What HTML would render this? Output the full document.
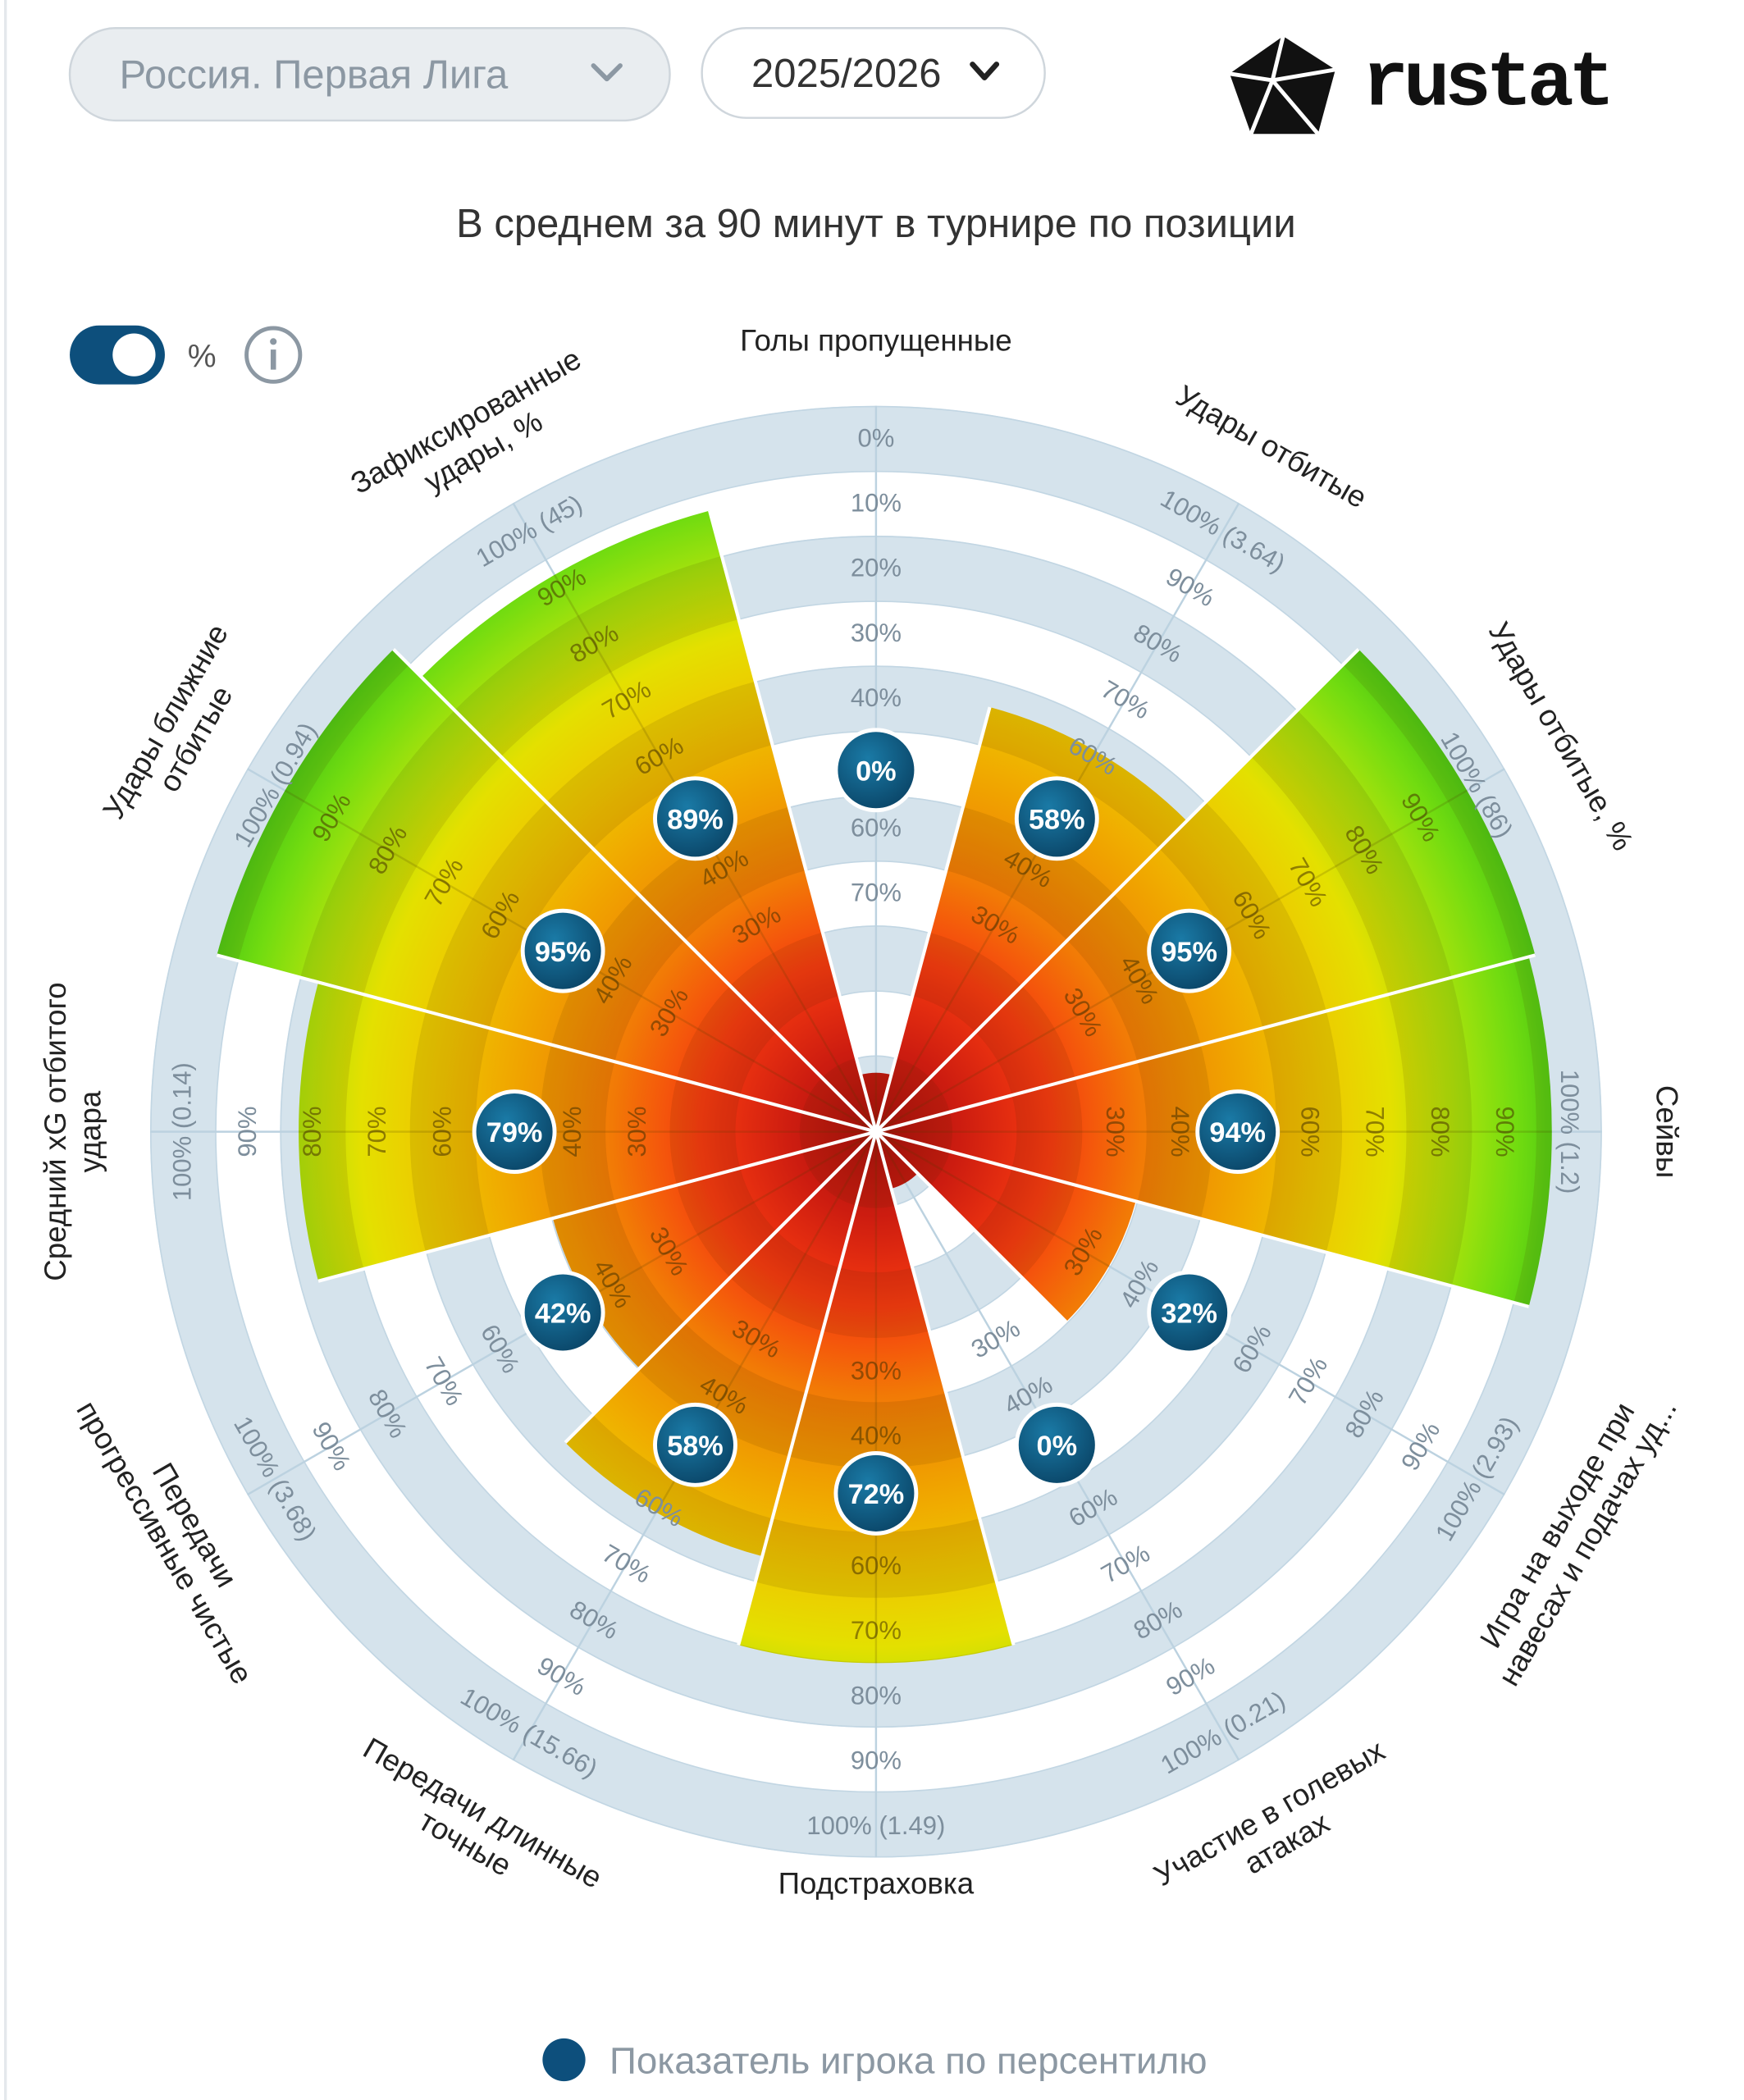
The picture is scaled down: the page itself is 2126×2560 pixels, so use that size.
<!DOCTYPE html>
<html><head><meta charset="utf-8"><style>
html,body{margin:0;padding:0;background:#fff;}
svg{display:block;}
text{font-family:"Liberation Sans","DejaVu Sans",sans-serif;}
</style></head><body>
<svg id="s" width="2126" height="2560" viewBox="0 0 1302 1568" xmlns="http://www.w3.org/2000/svg">
<defs>
<radialGradient id="g" cx="654" cy="845" r="520" gradientUnits="userSpaceOnUse">
<stop offset="0" stop-color="#a8100c"/>
<stop offset="0.12" stop-color="#cc1c10"/>
<stop offset="0.25" stop-color="#f63a10"/>
<stop offset="0.38" stop-color="#f27a06"/>
<stop offset="0.52" stop-color="#f0a400"/>
<stop offset="0.64" stop-color="#eec800"/>
<stop offset="0.74" stop-color="#e4e000"/>
<stop offset="0.84" stop-color="#a8e20c"/>
<stop offset="0.92" stop-color="#72dc10"/>
<stop offset="1" stop-color="#44c414"/>
</radialGradient>
<radialGradient id="mk" cx="0.4" cy="0.35" r="0.7">
<stop offset="0" stop-color="#1a7aa6"/>
<stop offset="1" stop-color="#0a4466"/>
</radialGradient>
</defs>
<rect x="0" y="0" width="1302" height="1568" fill="#fff"/>
<rect x="3" y="0" width="2" height="1568" fill="#e4e8ec"/>
<!-- header -->
<rect x="52" y="21" width="448" height="69" rx="34" fill="#e9edf0" stroke="#cfd6dc" stroke-width="1.5"/>
<text x="89" y="66" font-size="30" fill="#8c98a3">Россия. Первая Лига</text>
<path d="M443 49 L453 59 L463 49" fill="none" stroke="#8c98a3" stroke-width="3.5" stroke-linecap="round" stroke-linejoin="round"/>
<rect x="524" y="21" width="256" height="67" rx="33" fill="#fff" stroke="#cfd6dc" stroke-width="1.5"/>
<text x="561" y="65" font-size="30" fill="#333">2025/2026</text>
<path d="M726 48 L735 58 L744 48" fill="none" stroke="#222" stroke-width="4" stroke-linecap="round" stroke-linejoin="round"/>
<g>
<path d="M958 27 L997 52 L984 100 L934 100 L918 55 Z" fill="#111"/>
<path d="M958 27 L950 60 L997 52 M950 60 L934 100 M950 60 L984 100 M918 55 L950 60" stroke="#fff" stroke-width="3" fill="none"/>
</g>
<text x="1017" y="78" font-size="58" font-weight="bold" fill="#111" style="font-family:'Liberation Mono',monospace" letter-spacing="-4">rustat</text>
<text x="654" y="177" font-size="30" fill="#333" text-anchor="middle">В среднем за 90 минут в турнире по позиции</text>
<!-- toggle -->
<rect x="52" y="243" width="71" height="44" rx="22" fill="#0d4f7c"/>
<circle cx="100" cy="265" r="16" fill="#fff"/>
<text x="140" y="274" font-size="24" fill="#555">%</text>
<circle cx="204" cy="265" r="20" fill="none" stroke="#8c98a3" stroke-width="3"/>
<circle cx="204" cy="255" r="2.5" fill="#8c98a3"/>
<rect x="202" y="261" width="4" height="15" fill="#8c98a3"/>
<!-- legend -->
<circle cx="421" cy="1538" r="16" fill="#0d4f7c"/>
<text x="455" y="1548" font-size="28" fill="#8c98a3">Показатель игрока по персентилю</text>
<g id="chart"></g>
</svg>
<script>
const NS="http://www.w3.org/2000/svg",cx=654,cy=845;
const g=document.getElementById('chart');
function el(t,a,p){const e=document.createElementNS(NS,t);for(const k in a)e.setAttribute(k,a[k]);(p||g).appendChild(e);return e;}
function P(a,r){const t=a*Math.PI/180;return [cx+r*Math.sin(t),cy-r*Math.cos(t)];}
function sector(a1,a2,r){const p1=P(a1,r),p2=P(a2,r);return `M${cx} ${cy} L${p1[0]} ${p1[1]} A${r} ${r} 0 0 1 ${p2[0]} ${p2[1]} Z`;}
function ring(r1,r2){return `M${cx-r2} ${cy} A${r2} ${r2} 0 1 0 ${cx+r2} ${cy} A${r2} ${r2} 0 1 0 ${cx-r2} ${cy} Z M${cx-r1} ${cy} A${r1} ${r1} 0 1 1 ${cx+r1} ${cy} A${r1} ${r1} 0 1 1 ${cx-r1} ${cy} Z`;}
const blue=[[493,542],[396,445],[299,348],[202,251],[105,154],[8,57]];
blue.forEach(b=>el('path',{d:ring(b[0],b[1]),fill:'#d5e3ec','fill-rule':'evenodd'}));
for(let k=0;k<=11;k++){const r=8+48.5*k;if(r<=543)el('circle',{cx,cy,r,fill:'none',stroke:'#c2d6e3','stroke-width':1});}
const D=[
{v:0,rev:1,top:null,lab:['Голы пропущенные']},
{v:58,top:'100% (3.64)',lab:['Удары отбитые']},
{v:95,top:'100% (86)',lab:['Удары отбитые, %']},
{v:94,top:'100% (1.2)',lab:['Сейвы']},
{v:32,top:'100% (2.93)',lab:['Игра на выходе при','навесах и подачах уд...']},
{v:0,top:'100% (0.21)',lab:['Участие в голевых','атаках']},
{v:72,top:'100% (1.49)',lab:['Подстраховка']},
{v:58,top:'100% (15.66)',lab:['Передачи длинные','точные']},
{v:42,top:'100% (3.68)',lab:['Передачи','прогрессивные чистые']},
{v:79,top:'100% (0.14)',lab:['Средний xG отбитого','удара']},
{v:95,top:'100% (0.94)',lab:['Удары ближние','отбитые']},
{v:89,top:'100% (45)',lab:['Зафиксированные','удары, %']}
];
D.forEach((d,i)=>{d.a=i*30;d.R=44+4.9*d.v;});
D.forEach(d=>{const p=P(d.a,542);el('line',{x1:cx,y1:cy,x2:p[0],y2:p[1],stroke:'#bcd2e0','stroke-width':1.5});});
D.forEach(d=>{el('path',{d:sector(d.a-15,d.a+15,d.R),fill:'url(#g)'});});
const cp=el('clipPath',{id:'bc'},document.querySelector('defs'));
D.forEach(d=>el('path',{d:sector(d.a-15,d.a+15,d.R)},cp));
const ov=el('g',{'clip-path':'url(#bc)'});
blue.forEach(b=>el('path',{d:ring(b[0],b[1]),fill:'rgba(60,30,0,0.10)','fill-rule':'evenodd'},ov));
D.forEach(d=>{const p=P(d.a,542);el('line',{x1:cx,y1:cy,x2:p[0],y2:p[1],stroke:'rgba(80,60,0,0.18)','stroke-width':1.5},ov);});
D.forEach((d,i)=>{const n=D[(i+1)%12];const r=Math.max(d.R,n.R);const p=P(d.a+15,r);el('line',{x1:cx,y1:cy,x2:p[0],y2:p[1],stroke:'#fff','stroke-width':2.5});});
function rot(a){if(a<=90)return a;if(a>=270)return a-360;return a-180;}
D.forEach(d=>{
  const vals=d.rev?[0,10,20,30,40,60,70]:[30,40,60,70,80,90,100];
  vals.forEach(v=>{
    const r=d.rev?518-4.85*v:33+4.85*v;
    const p=P(d.a,r);
    const txt=(!d.rev&&v==100)?d.top:v+'%';
    const inside=r<d.R-8;
    el('text',{x:p[0],y:p[1],'font-size':19,fill:inside?'rgba(70,50,0,0.55)':'#7d8e9c','text-anchor':'middle','dominant-baseline':'central',transform:`rotate(${rot(d.a)} ${p[0]} ${p[1]})`}).textContent=txt;
  });
});
D.forEach(d=>{
  const p=P(d.a,270);
  el('circle',{cx:p[0],cy:p[1],r:30,fill:'url(#mk)',stroke:'#fff','stroke-width':3});
  el('text',{x:p[0],y:p[1]+1,'font-size':21,'font-weight':'bold',fill:'#fff','text-anchor':'middle','dominant-baseline':'central'}).textContent=d.v+'%';
});
D.forEach(d=>{
  const n=d.lab.length;const rr=n==1?590:600;
  const p=P(d.a,d.a==0?590:(d.a==180?562:rr));
  const t=el('text',{x:p[0],y:p[1],'font-size':22.5,fill:'#222','text-anchor':'middle',transform:`rotate(${rot(d.a)} ${p[0]} ${p[1]})`});
  d.lab.forEach((s,j)=>{const ts=el('tspan',{x:p[0],dy:j==0?(n==1?7:-5):26},t);ts.textContent=s;});
});
</script>
</body></html>
